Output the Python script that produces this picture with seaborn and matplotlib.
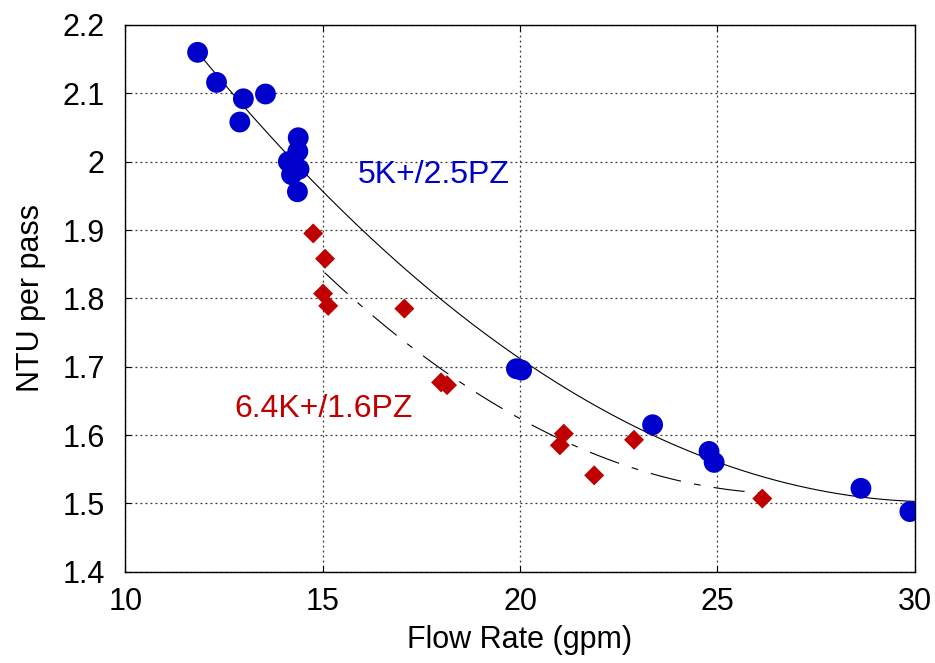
import numpy as np
import pandas as pd
import matplotlib
matplotlib.use("Agg")
import matplotlib.pyplot as plt
import seaborn as sns

# ---- data ----
blue_x = [11.83, 12.31, 12.99, 13.55, 12.90, 14.38, 14.37, 14.13, 14.40, 14.21, 14.36,
          19.91, 20.04, 23.36, 24.79, 24.92, 28.64, 29.88]
blue_y = [2.160, 2.116, 2.092, 2.099, 2.058, 2.035, 2.015, 2.000, 1.989, 1.981, 1.956,
          1.697, 1.695, 1.615, 1.576, 1.560, 1.522, 1.488]
red_x = [14.76, 15.06, 15.01, 15.14, 17.07, 18.00, 18.15, 21.11, 21.01, 21.88, 22.89, 26.14]
red_y = [1.895, 1.858, 1.807, 1.789, 1.785, 1.677, 1.673, 1.602, 1.585, 1.541, 1.593, 1.507]

blue_label = "5K+/2.5PZ"
red_label = "6.4K+/1.6PZ"
x_ticks = [10, 15, 20, 25, 30]
y_ticks = [1.4, 1.5, 1.6, 1.7, 1.8, 1.9, 2.0, 2.1, 2.2]
y_tick_labels = ["1.4", "1.5", "1.6", "1.7", "1.8", "1.9", "2", "2.1", "2.2"]

# quadratic trend lines fitted to each series
blue_fit = np.polyfit(blue_x, blue_y, 2)
red_fit = np.polyfit(red_x, red_y, 2)
bx = np.linspace(min(blue_x), 30, 200)
rx = np.linspace(15.05, 26.1, 200)
blue_curve = pd.DataFrame({"x": bx, "y": np.polyval(blue_fit, bx)})
red_curve = pd.DataFrame({"x": rx, "y": np.polyval(red_fit, rx)})

blue_df = pd.DataFrame({"x": blue_x, "y": blue_y})
red_df = pd.DataFrame({"x": red_x, "y": red_y})

sns.set_theme(style="white")
plt.rcParams["font.family"] = ["Liberation Sans", "DejaVu Sans"]
plt.rcParams["text.color"] = "black"
plt.rcParams["axes.labelcolor"] = "black"
plt.rcParams["xtick.color"] = "black"
plt.rcParams["ytick.color"] = "black"

BLUE = "#0000CC"
RED = "#C00000"

fig = plt.figure(figsize=(9.35, 6.63), dpi=100)
ax = fig.add_axes([0.1341, 0.1377, 0.9782 - 0.1341, 0.9623 - 0.1377])

ax.set_xlim(10, 30)
ax.set_ylim(1.4, 2.2)
ax.grid(True, color="#333333", linestyle=(0, (1.5, 2.5)), linewidth=0.9)
ax.set_axisbelow(True)

sns.lineplot(data=blue_curve, x="x", y="y", ax=ax, color="black", linewidth=0.8,
             zorder=2)
sns.lineplot(data=red_curve, x="x", y="y", ax=ax, color="black", linewidth=0.8,
             zorder=2)
ax.lines[-1].set_linestyle((0, (28, 12, 6, 12)))

sns.scatterplot(data=blue_df, x="x", y="y", ax=ax, color=BLUE, marker="o", s=225,
                edgecolor="none", zorder=3)
sns.scatterplot(data=red_df, x="x", y="y", ax=ax, color=RED, marker="D", s=104,
                edgecolor="none", zorder=3)

ax.text(15.89, 1.969, blue_label, color=BLUE, fontsize=23, ha="left", va="baseline")
ax.text(12.77, 1.6267, red_label, color=RED, fontsize=23, ha="left", va="baseline")

ax.set_xticks(x_ticks)
ax.set_yticks(y_ticks)
ax.set_yticklabels(y_tick_labels)
ax.tick_params(axis="both", direction="in", length=4, width=0.8, colors="black",
               labelsize=22, top=True, right=True, bottom=True, left=True)
ax.tick_params(axis="y", pad=15)
ax.tick_params(axis="x", pad=11)

for s in ax.spines.values():
    s.set_color("black")
    s.set_linewidth(1.0)

ax.set_xlabel("Flow Rate (gpm)", fontsize=22, labelpad=6, color="black")
ax.set_ylabel("NTU per pass", fontsize=22, labelpad=12, color="black")

fig.savefig("out.png", dpi=100)
